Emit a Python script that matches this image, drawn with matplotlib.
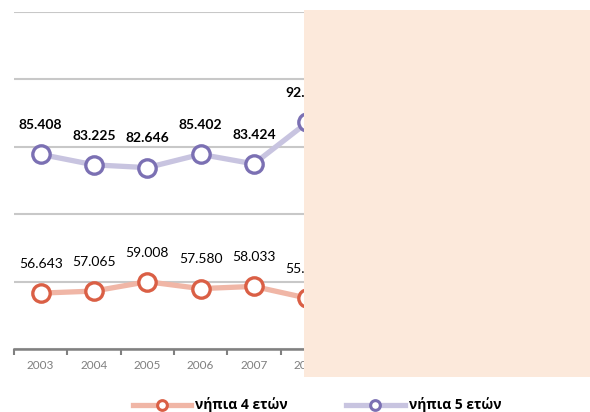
import matplotlib.pyplot as plt
from matplotlib.lines import Line2D
from matplotlib.patches import Rectangle
import numpy as np

plt.rcParams['font.family'] = ['Lato', 'Open Sans', 'DejaVu Sans']

years = ['2003', '2004', '2005', '2006', '2007', '2008']
age4 = [56.643, 57.065, 59.008, 57.580, 58.033, 55.6]
age5 = [85.408, 83.225, 82.646, 85.402, 83.424, 92.0]
name4 = 'νήπια 4 ετών'
name5 = 'νήπια 5 ετών'

line4, edge4 = '#F0B6A6', '#DA5F45'
line5, edge5 = '#C8C4E0', '#7B70B3'

W, H = 590, 412
fig = plt.figure(figsize=(W / 100, H / 100), dpi=100)
ax = fig.add_axes([14 / W, 1 - 349.3 / H, (588 - 14) / W, (349.3 - 11.5) / H])

x = np.arange(len(years))
for vals, lc, ec in [(age4, line4, edge4), (age5, line5, edge5)]:
    ax.plot(x, vals, color=lc, lw=3.8, marker='o', ms=12.5, mfc='white',
            mec=ec, mew=2.4, zorder=3, clip_on=False)

for xi, v in zip(x, age5):
    ax.annotate(f'{v:.3f}', (xi, v), xytext=(0, 21), textcoords='offset points',
                ha='center', va='center', fontsize=10, fontweight='bold', color='black')
for xi, v in zip(x, age4):
    ax.annotate(f'{v:.3f}', (xi, v), xytext=(0, 21), textcoords='offset points',
                ha='center', va='center', fontsize=10, color='black')

ax.set_xticks(x)
ax.set_xticklabels(years)
ax.set_xticks(np.arange(-0.5, 10.5, 1), minor=True)
ax.set_xlim(-0.5, -0.5 + (588 - 14) / 53.3)
ax.set_ylim(45, 115)
ax.set_yticks(np.arange(45, 116, 14))
ax.yaxis.grid(True, color='#C8C8C8', lw=1.5)
ax.set_axisbelow(True)
ax.tick_params(axis='y', left=False, labelleft=False)

ax.tick_params(axis='x', which='major', length=0, labelsize=8.5, labelcolor='#7F7F7F', pad=8)
ax.tick_params(axis='x', which='minor', length=4, width=1.5, color='#808080', direction='out')

for s in ['top', 'right', 'left']:
    ax.spines[s].set_visible(False)
ax.spines['bottom'].set_color('#808080')
ax.spines['bottom'].set_linewidth(1.8)

# overlay panel
fig.add_artist(Rectangle((304 / W, 1 - 377 / H), (W - 304) / W, (377 - 10) / H,
                         transform=fig.transFigure, facecolor='#FCE9DB',
                         edgecolor='none', zorder=10))

handles = [
    Line2D([], [], color=line4, lw=3.8, marker='o', ms=7, mfc='white', mec=edge4, mew=2.2),
    Line2D([], [], color=line5, lw=3.8, marker='o', ms=7, mfc='white', mec=edge5, mew=2.2),
]
fig.legend(handles, [name4, name5], loc='center', bbox_to_anchor=(317 / W, 1 - 405 / H),
           ncol=2, frameon=False, handlelength=4.2, handletextpad=0.3,
           columnspacing=4.2,
           prop={'family': ['Open Sans', 'DejaVu Sans'], 'size': 10, 'weight': 'bold'})

fig.savefig('out.png', dpi=100)
